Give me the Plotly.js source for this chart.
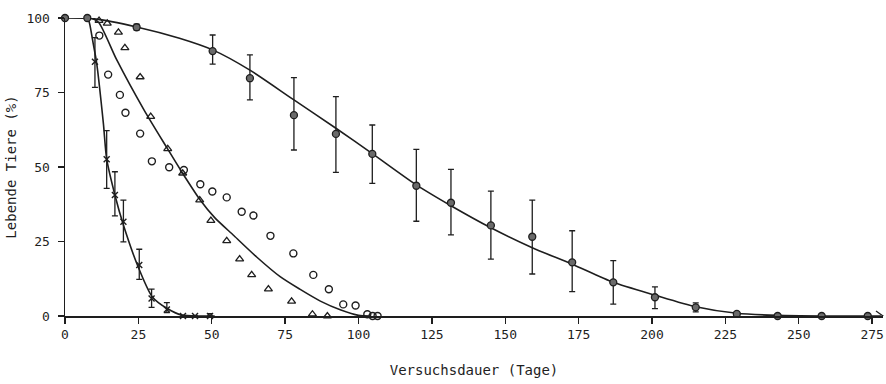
<!DOCTYPE html>
<html>
<head>
<meta charset="utf-8">
<script src="https://cdn.plot.ly/plotly-3.0.1.min.js"></script>
<style>
  html, body { margin: 0; padding: 0; background: #fff; }
  #chart { width: 886px; height: 384px; }
</style>
</head>
<body>
<div id="chart"></div>
<script>
// Gruppe 1: gefüllte Kreise mit Streuung (langlebige Tiere)
const g1Days  = [0, 7.6, 24.4, 50.3, 63.0, 78.0, 92.3, 104.7, 119.7, 131.5, 145.1, 159.2, 172.8, 186.8, 201.0, 214.9, 228.9, 242.8, 257.8, 273.5];
const g1Alive = [100, 100, 96.9, 88.9, 79.8, 67.4, 61.1, 54.4, 43.7, 38.0, 30.4, 26.6, 18.0, 11.3, 6.3, 2.9, 0.7, 0, 0, 0];
const g1ErrUp   = [0, 0, 1.0, 5.4, 7.8, 12.6, 12.5, 9.7, 12.2, 11.2, 11.5, 12.3, 10.6, 7.3, 3.5, 1.5, 0.7, 0, 0, 0];
const g1ErrDown = [0, 0, 1.0, 4.4, 7.3, 11.7, 12.9, 9.9, 11.9, 10.8, 11.3, 12.5, 9.8, 7.3, 3.8, 1.5, 0.7, 0, 0, 0];
const g1FitDays  = [0, 10, 24.4, 39, 50.3, 63, 78, 92.3, 104.7, 119.7, 131.5, 145.1, 159.2, 172.8, 186.8, 201, 214.9, 228.9, 242.8, 257.8, 278];
const g1FitAlive = [100, 99.7, 97, 93.2, 89.3, 82.5, 72.5, 63, 54.5, 44, 37, 29.6, 22.9, 17.4, 11.3, 7.0, 3.1, 0.9, 0.2, 0, 0];

// Gruppe 2: Kreuze mit Streuung (kurzlebige Tiere)
const g2Days  = [10.2, 14.2, 17.0, 19.9, 25.3, 29.5, 34.7, 40.2, 44.3, 49.4];
const g2Alive = [85.3, 52.6, 40.6, 31.6, 17.1, 5.9, 2.2, 0, 0, 0];
const g2ErrUp   = [8.1, 9.6, 7.8, 7.3, 5.3, 3.1, 2.3, 0, 0, 0.8];
const g2ErrDown = [8.6, 9.8, 7.0, 6.7, 4.8, 3.0, 1.1, 0, 0, 0];
const g2FitDays  = [7.9, 8.5, 9.6, 10.8, 13.1, 14.2, 17.0, 19.9, 24.8, 29.7, 34.7, 39.8, 46, 51];
const g2FitAlive = [100, 97.6, 91.5, 84.8, 64.4, 52.7, 40.6, 30.5, 16.8, 6.5, 2.6, 0.3, 0, 0];

// Gruppe 3: offene Dreiecke
const g3Days  = [11.6, 14.4, 18.2, 20.4, 25.6, 29.2, 35.0, 40.1, 45.9, 49.7, 55.1, 59.5, 63.6, 69.3, 77.2, 84.3, 89.4];
const g3Alive = [99.1, 98.2, 95.2, 90.0, 80.2, 66.9, 56.1, 47.9, 38.9, 32.0, 25.2, 19.1, 13.8, 9.0, 4.9, 0.6, 0];

// Gruppe 4: offene Kreise
const g4Days  = [11.7, 14.7, 18.7, 20.6, 25.6, 29.6, 35.5, 40.5, 46.1, 50.2, 55.1, 60.2, 64.2, 70.0, 77.8, 84.6, 89.9, 94.8, 99.0, 103.0, 104.8, 106.5];
const g4Alive = [94.1, 81.0, 74.2, 68.2, 61.2, 51.9, 49.9, 49.0, 44.2, 41.8, 39.8, 35.0, 33.7, 26.9, 21.0, 13.8, 9.0, 3.9, 3.5, 0.6, 0, 0];

// gemeinsame Ausgleichskurve für Gruppe 3 und 4
const g34FitDays  = [9, 11.5, 17.6, 27, 35, 40, 46, 51, 57.5, 65.3, 73.3, 80, 87, 94, 100, 104];
const g34FitAlive = [100, 98.5, 86, 69, 56, 48, 39, 33, 27, 19.8, 13.2, 9, 5, 2, 0.2, 0];

const xTicks = [0, 25, 50, 75, 100, 125, 150, 175, 200, 225, 250, 275];
const yTicks = [0, 25, 50, 75, 100];

const ink = '#1e1e1e';
const fontFamily = '"DejaVu Sans Mono", "Liberation Mono", monospace';

const fitLine = (x, y) => ({
  x, y, type: 'scatter', mode: 'lines',
  line: { color: ink, width: 1.6, shape: 'spline', smoothing: 0.7 },
  cliponaxis: false, hoverinfo: 'skip'
});

const traces = [
  fitLine(g1FitDays, g1FitAlive),
  fitLine(g2FitDays, g2FitAlive),
  fitLine(g34FitDays, g34FitAlive),
  {
    x: g3Days, y: g3Alive, type: 'scatter', mode: 'markers', cliponaxis: false,
    marker: { symbol: 'triangle-up-open', size: 7, color: ink, line: { width: 1.3, color: ink } }
  },
  {
    x: g4Days, y: g4Alive, type: 'scatter', mode: 'markers', cliponaxis: false,
    marker: { symbol: 'circle-open', size: 7, color: ink, line: { width: 1.4, color: ink } }
  },
  {
    x: g2Days, y: g2Alive, type: 'scatter', mode: 'markers', cliponaxis: false,
    marker: { symbol: 'x-thin-open', size: 6, color: ink, line: { width: 1.4, color: ink } },
    error_y: { type: 'data', symmetric: false, array: g2ErrUp, arrayminus: g2ErrDown,
               color: ink, thickness: 1.3, width: 3 }
  },
  {
    x: g1Days, y: g1Alive, type: 'scatter', mode: 'markers', cliponaxis: false,
    marker: { symbol: 'circle', size: 7, color: '#6a6a6a', line: { width: 1.3, color: ink } },
    error_y: { type: 'data', symmetric: false, array: g1ErrUp, arrayminus: g1ErrDown,
               color: ink, thickness: 1.3, width: 3 }
  }
];

const layout = {
  width: 886, height: 384,
  margin: { l: 65, r: 3, t: 18, b: 68 },
  paper_bgcolor: '#fff', plot_bgcolor: '#fff',
  showlegend: false,
  font: { family: fontFamily, color: ink, size: 13 },
  xaxis: {
    range: [0, 278.7], tickvals: xTicks, ticktext: xTicks.map(String),
    showgrid: false, zeroline: false,
    showline: true, linecolor: ink, linewidth: 1.5,
    ticks: 'outside', ticklen: 6, tickwidth: 1.3, tickcolor: ink,
    tickfont: { family: fontFamily, size: 13, color: ink },
    title: { text: 'Versuchsdauer (Tage)', font: { family: fontFamily, size: 14, color: ink }, standoff: 24 }
  },
  yaxis: {
    range: [0, 100], tickvals: yTicks, ticktext: yTicks.map(String),
    showgrid: false, zeroline: false,
    showline: true, linecolor: ink, linewidth: 1.5,
    ticks: 'outside', ticklen: 6, tickwidth: 1.3, tickcolor: ink,
    ticklabelstandoff: 5,
    tickfont: { family: fontFamily, size: 13, color: ink },
    title: { text: 'Lebende Tiere (%)', font: { family: fontFamily, size: 14, color: ink }, standoff: 6 }
  },
  shapes: [
    // offene Pfeilspitze am Ende der Zeitachse
    {
      type: 'path', xref: 'paper', yref: 'y',
      xsizemode: 'pixel', ysizemode: 'pixel', xanchor: 1, yanchor: 0,
      path: 'M -7 -5 L 0 0 L -7 5',
      line: { color: ink, width: 1.3 }
    }
  ]
};

Plotly.newPlot('chart', traces, layout, { displayModeBar: false, staticPlot: true });
</script>
</body>
</html>
